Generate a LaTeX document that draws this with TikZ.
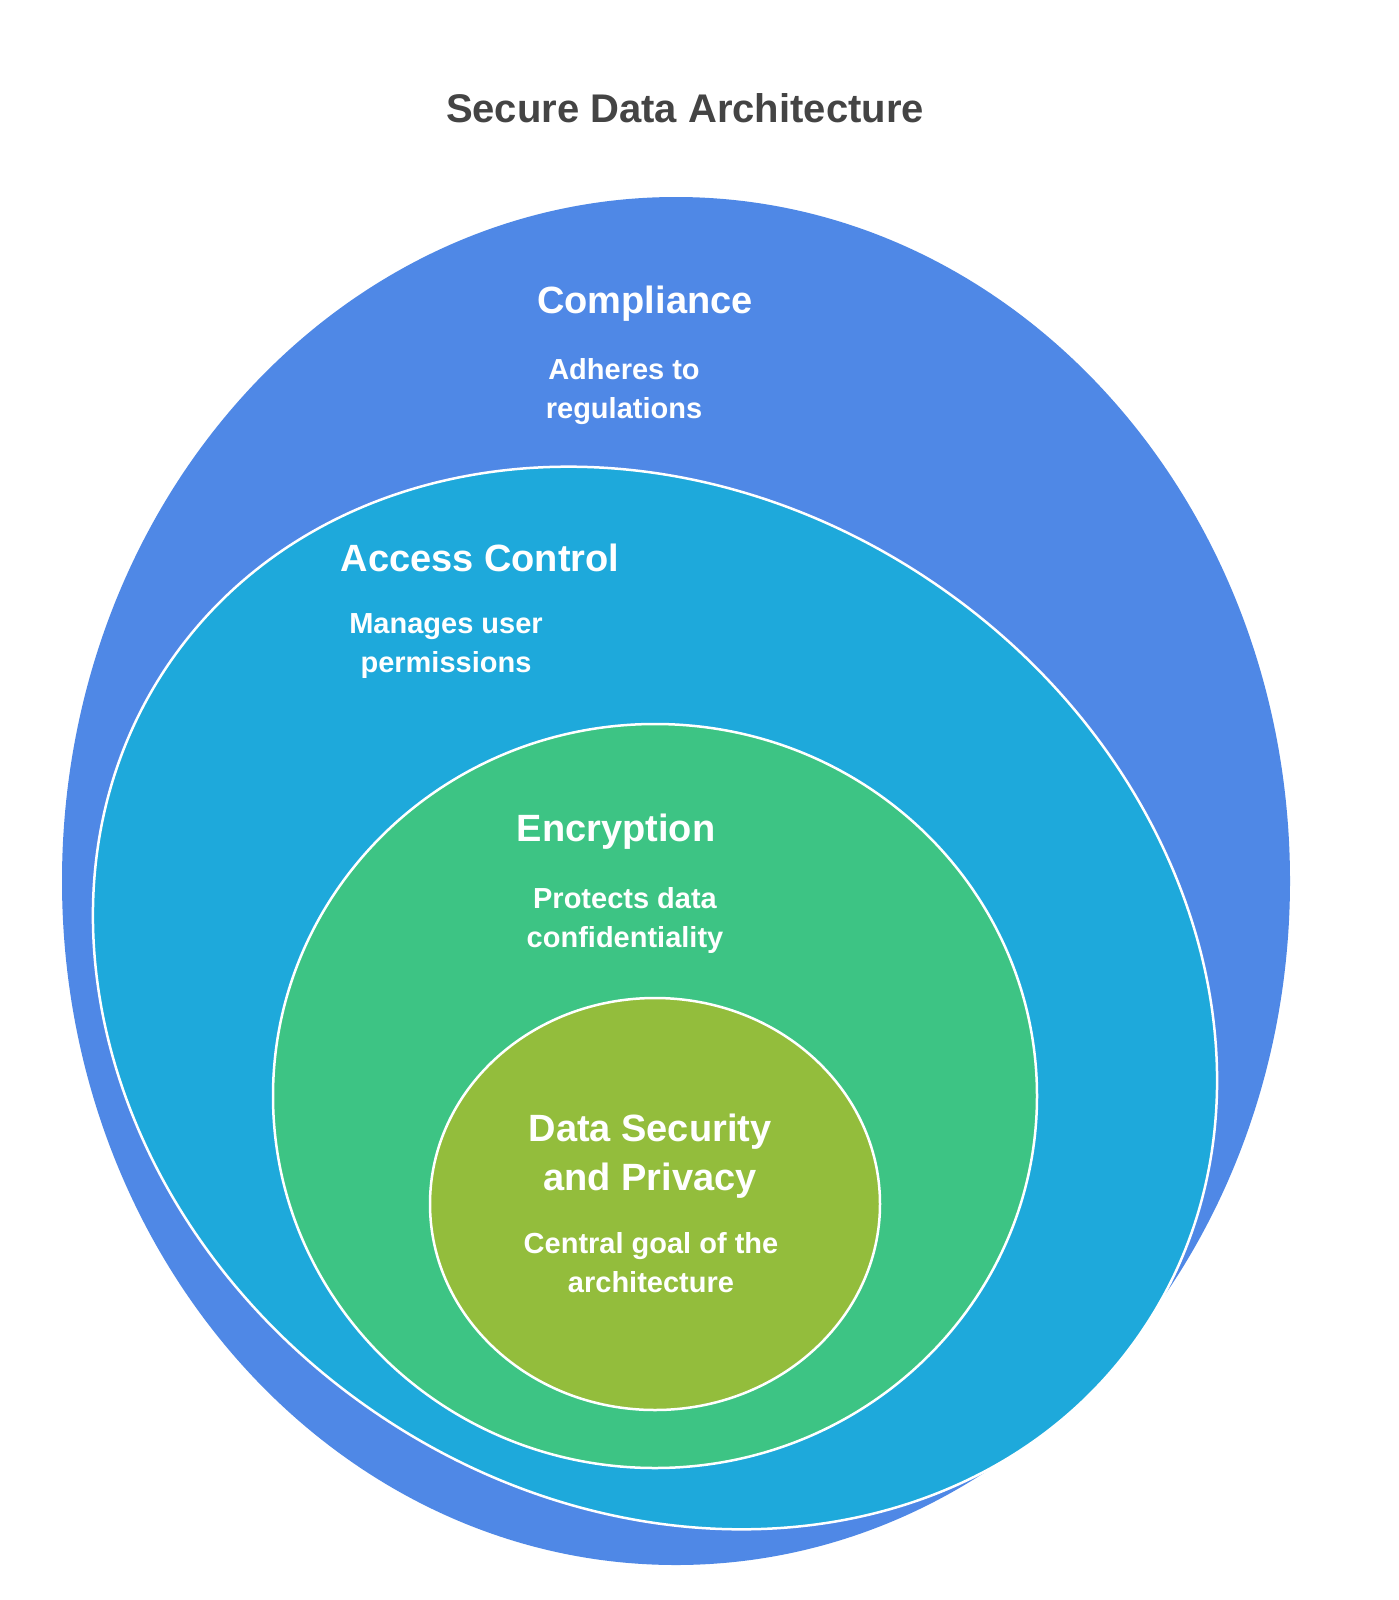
\documentclass[tikz,border=0pt]{standalone}
\usepackage{fontspec}
\setmainfont{Liberation Sans}
\begin{document}
\begin{tikzpicture}[x=1pt,y=-1pt,
  blob/.style={draw=white,line width=2.5pt},
  head/.style={text=white,font=\bfseries\fontsize{38}{44}\selectfont,align=center},
  sub/.style={text=white,font=\bfseries\fontsize{29}{39}\selectfont,align=center}]
\useasboundingbox (0,0) rectangle (1398,1600);
\fill[white] (0,0) rectangle (1398,1600);
\fill[fill={rgb,255:red,79;green,136;blue,230}] (676,881) ellipse [x radius=614, y radius=684];
\draw[blob,fill={rgb,255:red,30;green,169;blue,219}] (655,998) ellipse [x radius=590, y radius=500, rotate=-35];
\draw[blob,fill={rgb,255:red,61;green,196;blue,132}] (655,1096) ellipse [x radius=382, y radius=372];
\draw[blob,fill={rgb,255:red,147;green,189;blue,60}] (655,1204) ellipse [x radius=225, y radius=206];
\node[font=\bfseries\fontsize{40}{46}\selectfont,text={rgb,255:red,68;green,68;blue,68}] (title) at (685,108) {Secure Data Architecture};
\node[head] (c) at (645,304) {Compliance};
\node[sub] (cs) at (624,392) {Adheres to\\regulations};
\node[head] (a) at (480,558) {Access Control};
\node[sub] (as) at (446,646) {Manages user\\permissions};
\node[head] (e) at (616,832) {Encryption};
\node[sub] (es) at (625,920) {Protects data\\confidentiality};
\node[head,font=\bfseries\fontsize{38}{49}\selectfont] (d) at (650,1156) {Data Security\\and Privacy};
\node[sub] (ds) at (651,1263) {Central goal of the\\architecture};
\end{tikzpicture}
\end{document}
